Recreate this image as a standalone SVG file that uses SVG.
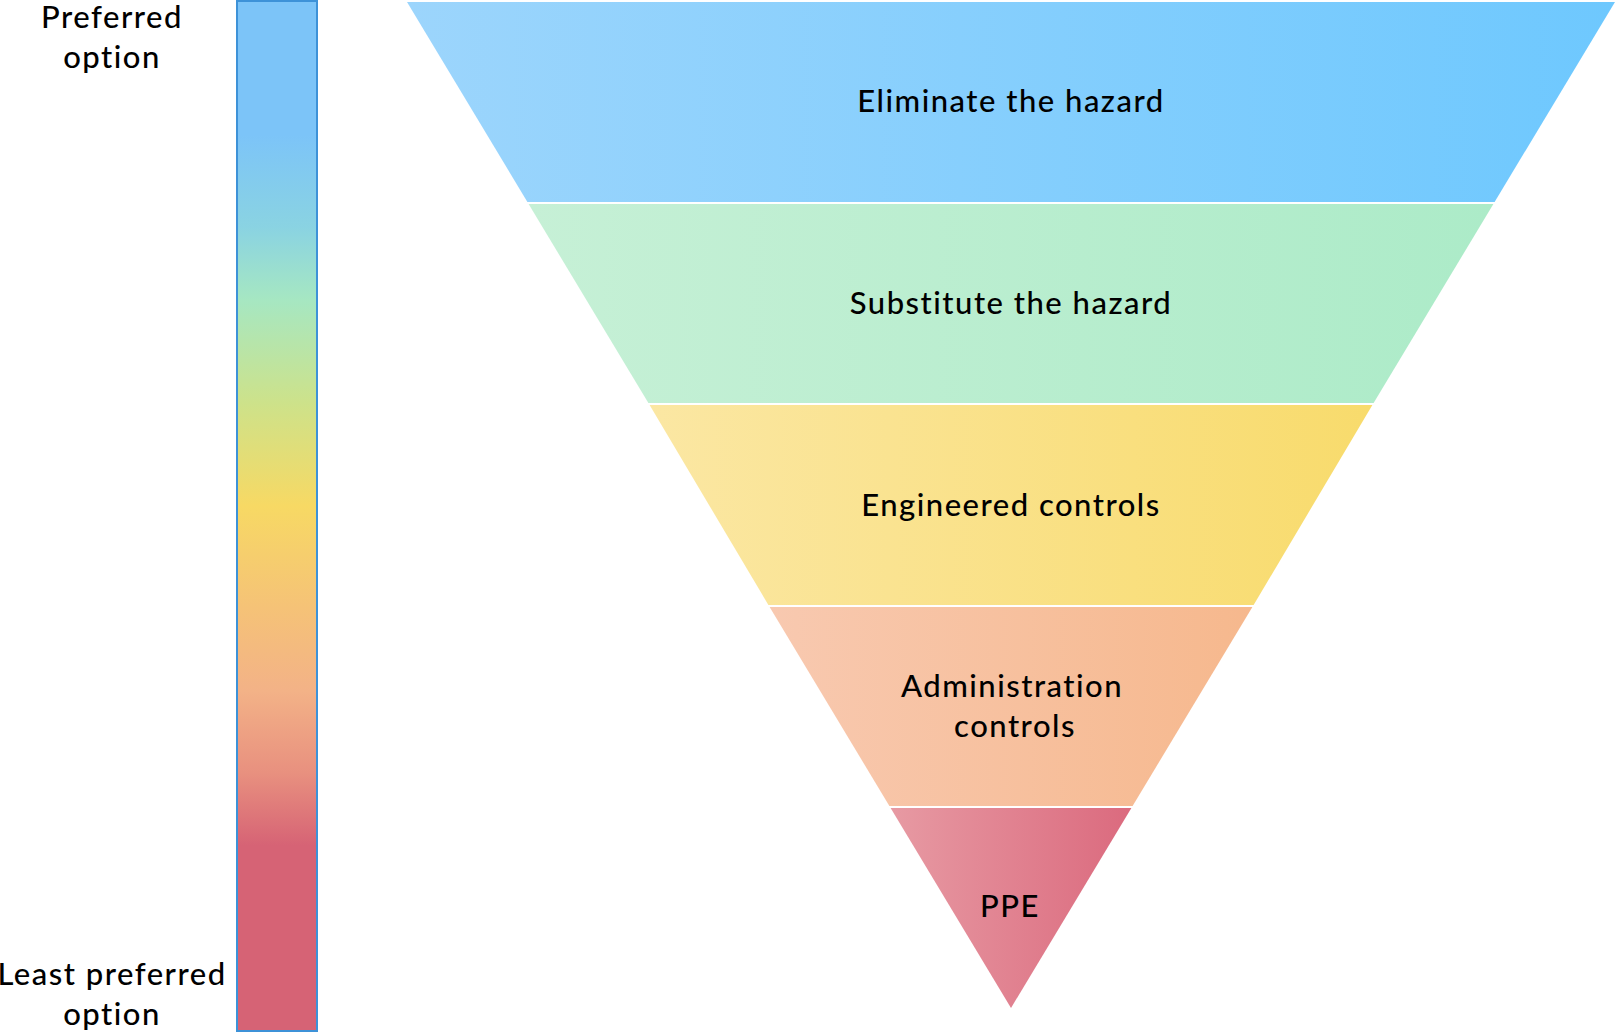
<svg xmlns="http://www.w3.org/2000/svg" width="1616" height="1034" viewBox="0 0 1616 1034">
<style>
  text { font-family: Lato, "Open Sans", "DejaVu Sans", sans-serif; font-size: 31px; font-weight: 500; letter-spacing: 1.5px; fill: #000; text-anchor: middle; }
  .sep { stroke: #ffffff; stroke-width: 2; }
</style>
<defs>
  <linearGradient id="bar" x1="0" y1="0" x2="0" y2="1">
    <stop offset="0" stop-color="#7cc4f8"/>
    <stop offset="0.13" stop-color="#7cc4f8"/>
    <stop offset="0.22" stop-color="#8ad3e2"/>
    <stop offset="0.29" stop-color="#a6e7c2"/>
    <stop offset="0.39" stop-color="#cde28a"/>
    <stop offset="0.49" stop-color="#f7d964"/>
    <stop offset="0.59" stop-color="#f5c277"/>
    <stop offset="0.67" stop-color="#f3b287"/>
    <stop offset="0.75" stop-color="#e8907f"/>
    <stop offset="0.82" stop-color="#d66375"/>
    <stop offset="1" stop-color="#d66375"/>
  </linearGradient>
  <linearGradient id="g1" x1="0" y1="0" x2="1" y2="0">
    <stop offset="0" stop-color="#9cd5fc"/>
    <stop offset="1" stop-color="#6ec8fe"/>
  </linearGradient>
  <linearGradient id="g2" x1="0" y1="0" x2="1" y2="0">
    <stop offset="0" stop-color="#c6f0d6"/>
    <stop offset="1" stop-color="#acebc8"/>
  </linearGradient>
  <linearGradient id="g3" x1="0" y1="0" x2="1" y2="0">
    <stop offset="0" stop-color="#fbe7a3"/>
    <stop offset="1" stop-color="#f8db6c"/>
  </linearGradient>
  <linearGradient id="g4" x1="0" y1="0" x2="1" y2="0">
    <stop offset="0" stop-color="#f8c9b0"/>
    <stop offset="1" stop-color="#f6b88d"/>
  </linearGradient>
  <linearGradient id="g5" x1="0" y1="0" x2="1" y2="0">
    <stop offset="0" stop-color="#e79aa3"/>
    <stop offset="1" stop-color="#db6a7e"/>
  </linearGradient>
</defs>

<g id="scale">
  <rect x="237" y="1" width="80" height="1030" fill="url(#bar)" stroke="#3d92d8" stroke-width="2"/>
  <text x="112" y="28">Preferred</text>
  <text x="112" y="68">option</text>
  <text x="112" y="985">Least preferred</text>
  <text x="112" y="1025">option</text>
</g>

<g id="level1">
  <polygon points="407,2 1615,2 1494,203 528,203" fill="url(#g1)"/>
  <text x="1011" y="112">Eliminate the hazard</text>
</g>
<g id="level2">
  <polygon points="528,203 1494,203 1373,404 649,404" fill="url(#g2)"/>
  <text x="1011" y="314">Substitute the hazard</text>
</g>
<g id="level3">
  <polygon points="649,404 1373,404 1253,606 769,606" fill="url(#g3)"/>
  <text x="1011" y="516">Engineered controls</text>
</g>
<g id="level4">
  <polygon points="769,606 1253,606 1132,807 890,807" fill="url(#g4)"/>
  <text x="1012" y="697">Administration</text>
  <text x="1015" y="737">controls</text>
</g>
<g id="level5">
  <polygon points="890,807 1132,807 1011,1008" fill="url(#g5)"/>
  <text x="1010" y="917">PPE</text>
</g>

<g id="connectors">
  <line class="sep" x1="520" y1="203" x2="1500" y2="203"/>
  <line class="sep" x1="640" y1="404" x2="1380" y2="404"/>
  <line class="sep" x1="760" y1="606" x2="1260" y2="606"/>
  <line class="sep" x1="880" y1="807" x2="1140" y2="807"/>
</g>
</svg>
